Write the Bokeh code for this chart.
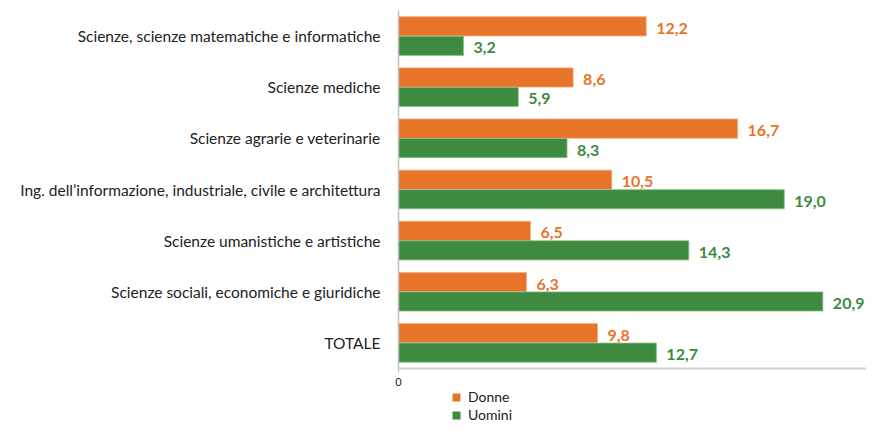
from bokeh.plotting import figure
from bokeh.layouts import column
from bokeh.models import ColumnDataSource, FactorRange, FixedTicker, Legend, LegendItem, Range1d
from bokeh.transform import dodge
from bokeh.core.properties import value
from bokeh.embed import file_html
from bokeh.resources import INLINE

categories = [
    "Scienze, scienze matematiche e informatiche",
    "Scienze mediche",
    "Scienze agrarie e veterinarie",
    "Ing. dell\u2019informazione, industriale, civile e architettura",
    "Scienze umanistiche e artistiche",
    "Scienze sociali, economiche e giuridiche",
    "TOTALE",
]
donne = [12.2, 8.6, 16.7, 10.5, 6.5, 6.3, 9.8]
uomini = [3.2, 5.9, 8.3, 19.0, 14.3, 20.9, 12.7]
series = ["Donne", "Uomini"]
x_ticks = [0]

ORANGE = "#E8742A"
GREEN = "#3E8A41"
FONT = "Lato"

def fmt(v):
    return f"{v:.1f}".replace(".", ",")

src = ColumnDataSource(dict(
    cat=categories,
    donne=donne,
    uomini=uomini,
    donne_lbl=[fmt(v) for v in donne],
    uomini_lbl=[fmt(v) for v in uomini],
))

p = figure(
    width=866, height=388,
    y_range=FactorRange(factors=list(reversed(categories))),
    x_range=Range1d(0, 23.05),
    output_backend="svg", toolbar_location=None,
    min_border_left=398, min_border_right=0,
    min_border_top=10, min_border_bottom=0,
)

bh = 0.375
off = 0.19
r1 = p.hbar(y=dodge("cat", off, range=p.y_range), right="donne", left=0, height=bh,
            source=src, fill_color=ORANGE, line_color="#F2A878", line_width=0.8)
r2 = p.hbar(y=dodge("cat", -off, range=p.y_range), right="uomini", left=0, height=bh,
            source=src, fill_color=GREEN, line_color="#8CBF8E", line_width=0.8)

p.text(x="donne", y=dodge("cat", off, range=p.y_range), text="donne_lbl", source=src,
       x_offset=10, y_offset=2, text_baseline="middle", text_align="left",
       text_color=ORANGE, text_font=value(FONT), text_font_style="bold",
       text_font_size="16px")
p.text(x="uomini", y=dodge("cat", -off, range=p.y_range), text="uomini_lbl", source=src,
       x_offset=10, y_offset=2, text_baseline="middle", text_align="left",
       text_color=GREEN, text_font=value(FONT), text_font_style="bold",
       text_font_size="16px")

p.xgrid.visible = False
p.ygrid.visible = False
p.outline_line_color = None
p.background_fill_color = "white"
p.border_fill_color = "white"

ya = p.yaxis[0]
ya.axis_line_color = "#BFBFBF"
ya.axis_line_width = 1.5
ya.major_tick_line_color = None
ya.minor_tick_line_color = None
ya.major_label_standoff = 12
ya.major_label_text_font = FONT
ya.major_label_text_font_size = "15.5px"
ya.major_label_text_color = "#222222"

xa = p.xaxis[0]
xa.ticker = FixedTicker(ticks=x_ticks)
xa.axis_line_color = "#D0D0D0"
xa.axis_line_width = 2
xa.major_tick_line_color = "#BFBFBF"
xa.major_tick_out = 4
xa.major_tick_in = 0
xa.minor_tick_line_color = None
xa.major_label_standoff = 5
xa.major_label_text_font = FONT
xa.major_label_text_font_size = "11px"
xa.major_label_text_color = "#222222"

# legend strip (zero-size proxy bars carry the legend swatches)
p2 = figure(
    width=866, height=35,
    x_range=Range1d(0, 1), y_range=Range1d(0, 1),
    x_axis_type=None, y_axis_type=None,
    output_backend="svg", toolbar_location=None,
    min_border=0, outline_line_color=None,
)
p2.xgrid.visible = False
p2.ygrid.visible = False
l1 = p2.hbar(y="donne", right=0, left=0, height=0, source=src,
             fill_color=ORANGE, line_color=None)
l2 = p2.hbar(y="uomini", right=0, left=0, height=0, source=src,
             fill_color=GREEN, line_color=None)

legend = Legend(
    items=[LegendItem(label=series[0], renderers=[l1]),
           LegendItem(label=series[1], renderers=[l2])],
    location=(53, 0), orientation="vertical",
    glyph_width=10, glyph_height=10, label_height=15,
    label_text_font=FONT, label_text_font_size="14px", label_text_color="#222222",
    label_standoff=7, spacing=1, padding=0, margin=0,
    border_line_color=None, background_fill_alpha=0,
)
p2.add_layout(legend, "center")

layout = column(p, p2, spacing=0)
open("out.html", "w").write(file_html(layout, INLINE))
